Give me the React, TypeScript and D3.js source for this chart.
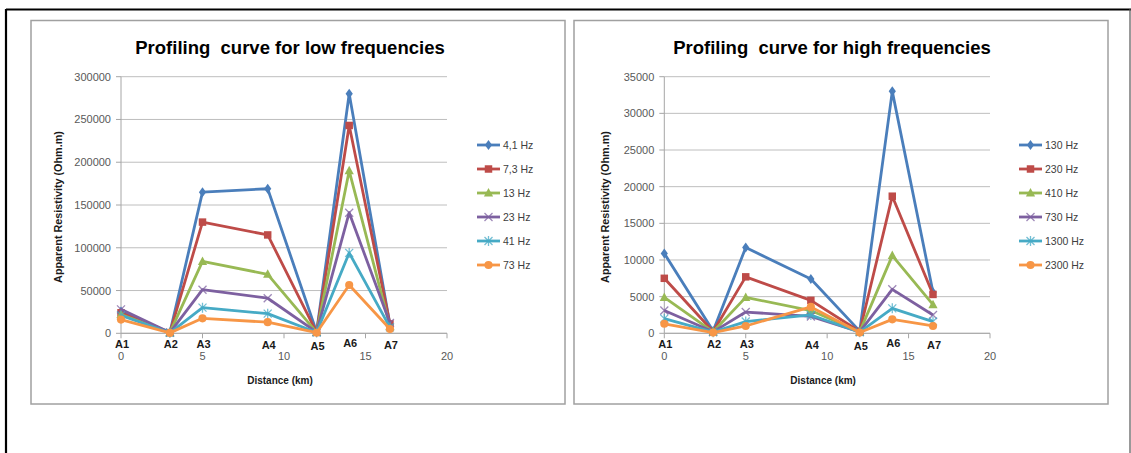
import React from "react";
import * as d3 from "d3";

// ---------- data ----------
const stations = ["A1", "A2", "A3", "A4", "A5", "A6", "A7"];
const distanceKm = [0, 3, 5, 9, 12, 14, 16.5];
const xTicks = [0, 5, 10, 15, 20];

const lowNames = ["4,1 Hz", "7,3 Hz", "13 Hz", "23 Hz", "41 Hz", "73 Hz"];
const low41 = [25500, 1000, 165000, 169000, 1500, 280000, 10000];
const low73 = [24000, 800, 130000, 115000, 1200, 243000, 11000];
const low13 = [22000, 700, 84000, 69000, 1000, 190000, 8000];
const low23 = [28000, 900, 51000, 41000, 1300, 141000, 12000];
const low41b = [21000, 600, 30000, 23000, 900, 94000, 7000];
const low73b = [16000, 500, 17500, 13000, 700, 56500, 5000];
const lowTicks = [0, 50000, 100000, 150000, 200000, 250000, 300000];

const highNames = ["130 Hz", "230 Hz", "410 Hz", "730 Hz", "1300 Hz", "2300 Hz"];
const high130 = [10900, 300, 11700, 7400, 300, 33000, 5600];
const high230 = [7500, 250, 7700, 4500, 250, 18700, 5300];
const high410 = [4900, 200, 4900, 3100, 200, 10600, 3900];
const high730 = [3100, 200, 2900, 2300, 200, 6000, 2500];
const high1300 = [2000, 150, 1600, 2500, 150, 3400, 1600];
const high2300 = [1300, 100, 1000, 3600, 100, 1900, 1000];
const highTicks = [0, 5000, 10000, 15000, 20000, 25000, 30000, 35000];

// ---------- styles ----------
const colors = ["#4A7EBB", "#BE4B48", "#98B954", "#7D60A0", "#46AAC5", "#F79646"];
const markerKinds = ["diamond", "square", "triangle", "times", "asterisk", "circle"];
const labelDy = [0, 0, 0, 1.5, 2, -1, 1.5];
const FONT = "'Liberation Sans', Arial, sans-serif";

function markerPath(kind: string): string {
  switch (kind) {
    case "diamond":
      return "M0,-5L3.6,0L0,5L-3.6,0Z";
    case "square":
      return d3.symbol(d3.symbolSquare, 56)() as string;
    case "triangle":
      return "M0,-5L4.6,3.5L-4.6,3.5Z";
    case "circle":
      return d3.symbol(d3.symbolCircle, 52)() as string;
    case "times":
      return "M-4,-4L4,4M-4,4L4,-4";
    case "asterisk":
      return "M-4,-4L4,4M-4,4L4,-4M0,-5L0,5";
    default:
      return "";
  }
}

function Marker({ kind, color, x, y }: { kind: string; color: string; x: number; y: number }) {
  const stroked = kind === "times" || kind === "asterisk";
  return (
    <path
      d={markerPath(kind)}
      transform={`translate(${x},${y})`}
      fill={stroked ? "none" : color}
      stroke={stroked ? color : "none"}
      strokeWidth={stroked ? 1.3 : 0}
      opacity={stroked ? 0.75 : 1}
    />
  );
}

type PanelProps = {
  title: string;
  names: string[];
  series: number[][];
  ticks: number[];
  left: number;
  right: number;
  top: number;
  bottom: number;
  titleX: number;
  yTitleX: number;
  legendX: number;
};

function Panel(p: PanelProps) {
  const x = d3.scaleLinear().domain([0, 20]).range([p.left, p.right]);
  const y = d3
    .scaleLinear()
    .domain([0, p.ticks[p.ticks.length - 1]])
    .range([p.bottom, p.top]);
  const line = d3
    .line<number>()
    .x((_, i) => x(distanceKm[i]))
    .y((v) => y(v));
  const legendY0 = 145;
  const legendStep = 24;
  return (
    <g>
      <text
        x={p.titleX}
        y={54}
        textAnchor="middle"
        fontFamily={FONT}
        fontWeight="bold"
        fontSize={18.5}
        style={{ whiteSpace: "pre" }}
        fill="#000"
      >
        {p.title}
      </text>
      {/* gridlines */}
      {p.ticks.map((t) => (
        <line key={"g" + t} x1={p.left} x2={p.right} y1={y(t)} y2={y(t)} stroke="#BEBEBE" strokeWidth={1} />
      ))}
      {/* y axis */}
      <line x1={p.left} x2={p.left} y1={p.top} y2={p.bottom} stroke="#A6A6A6" strokeWidth={1} />
      {p.ticks.map((t) => (
        <g key={"y" + t}>
          <line x1={p.left - 5} x2={p.left} y1={y(t)} y2={y(t)} stroke="#A6A6A6" />
          <text x={p.left - 10} y={y(t) + 4} textAnchor="end" fontFamily={FONT} fontSize={11} fill="#595959">
            {t}
          </text>
        </g>
      ))}
      {/* x axis */}
      <line x1={p.left} x2={p.right} y1={p.bottom} y2={p.bottom} stroke="#A6A6A6" strokeWidth={1} />
      {xTicks.map((t) => (
        <g key={"x" + t}>
          <line x1={x(t)} x2={x(t)} y1={p.bottom} y2={p.bottom + 5} stroke="#A6A6A6" />
          <text x={x(t)} y={p.bottom + 26.5} textAnchor="middle" fontFamily={FONT} fontSize={11} fill="#595959">
            {t}
          </text>
        </g>
      ))}
      {/* station labels */}
      {stations.map((s, i) => (
        <text
          key={s}
          x={x(distanceKm[i]) + 1}
          y={p.bottom + 14.5 + labelDy[i]}
          textAnchor="middle"
          fontFamily={FONT}
          fontWeight="bold"
          fontSize={11}
          fill="#1a1a1a"
        >
          {s}
        </text>
      ))}
      {/* axis titles */}
      <text
        x={(p.left + p.right) / 2 - 4}
        y={384}
        textAnchor="middle"
        fontFamily={FONT}
        fontWeight="bold"
        fontSize={10}
        fill="#1a1a1a"
      >
        Distance (km)
      </text>
      <text
        transform={`translate(${p.yTitleX},${(p.top + p.bottom) / 2 + 2}) rotate(-90)`}
        textAnchor="middle"
        fontFamily={FONT}
        fontWeight="bold"
        fontSize={10.8}
        fill="#1a1a1a"
      >
        Apparent Resistivity (Ohm.m)
      </text>
      {/* series */}
      {p.series.map((vals, si) => (
        <g key={"s" + si}>
          <path d={line(vals) as string} fill="none" stroke={colors[si]} strokeWidth={2.8} strokeLinejoin="round" />
          {vals.map((v, i) => (
            <Marker key={i} kind={markerKinds[si]} color={colors[si]} x={x(distanceKm[i])} y={y(v)} />
          ))}
        </g>
      ))}
      {/* legend */}
      {p.names.map((n, i) => (
        <g key={"l" + n}>
          <line
            x1={p.legendX}
            x2={p.legendX + 23}
            y1={legendY0 + i * legendStep}
            y2={legendY0 + i * legendStep}
            stroke={colors[i]}
            strokeWidth={2.8}
          />
          <Marker kind={markerKinds[i]} color={colors[i]} x={p.legendX + 11.5} y={legendY0 + i * legendStep} />
          <text
            x={p.legendX + 26}
            y={legendY0 + i * legendStep + 3.8}
            fontFamily={FONT}
            fontSize={10.5}
            fill="#404040"
          >
            {n}
          </text>
        </g>
      ))}
    </g>
  );
}

export default function App() {
  const lowSeries = [low41, low73, low13, low23, low41b, low73b];
  const highSeries = [high130, high230, high410, high730, high1300, high2300];
  return (
    <svg
      width={1131}
      height={453}
      style={{ position: "absolute", left: 0, top: 0, background: "#fff" }}
    >
      <rect x={0} y={0} width={1131} height={453} fill="#fff" />
      {/* outer frame */}
      <line x1={6} x2={1131} y1={9.5} y2={9.5} stroke="#000" strokeWidth={2} />
      <line x1={6} x2={6} y1={9} y2={453} stroke="#000" strokeWidth={2.2} />
      <line x1={1130} x2={1130} y1={9} y2={453} stroke="#555" strokeWidth={1.2} />
      {/* panel boxes */}
      <rect x={31} y={20.5} width={534} height={383.5} fill="#fff" stroke="#A0A0A0" strokeWidth={1.5} />
      <rect x={574} y={20.5} width={534} height={383.5} fill="#fff" stroke="#A0A0A0" strokeWidth={1.5} />
      <Panel
        title="Profiling  curve for low frequencies"
        names={lowNames}
        series={lowSeries}
        ticks={lowTicks}
        left={121}
        right={447}
        top={76.7}
        bottom={333.3}
        titleX={290}
        yTitleX={62}
        legendX={477}
      />
      <Panel
        title="Profiling  curve for high frequencies"
        names={highNames}
        series={highSeries}
        ticks={highTicks}
        left={664.3}
        right={990}
        top={76.7}
        bottom={333.3}
        titleX={832}
        yTitleX={609}
        legendX={1019}
      />
    </svg>
  );
}
